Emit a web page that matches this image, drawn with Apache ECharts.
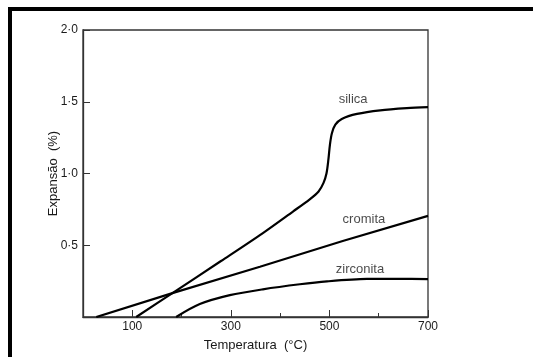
<!DOCTYPE html>
<html>
<head>
<meta charset="utf-8">
<script src="https://cdn.jsdelivr.net/npm/echarts@6/dist/echarts.min.js"></script>
<style>
html,body{margin:0;padding:0;background:#fff;}
#c{width:533px;height:357px;}
</style>
</head>
<body>
<div id="c"></div>
<script>
// ---- data (temperature °C, expansion %) ----
const silicaT = [108, 183, 280, 365, 426, 460, 478, 488, 494, 498, 501, 505, 512, 525, 556, 603, 657, 700];
const silicaV = [0, 0.17, 0.39, 0.585, 0.735, 0.82, 0.875, 0.935, 1.0, 1.10, 1.20, 1.28, 1.34, 1.38, 1.415, 1.44, 1.455, 1.462];
const cromitaT = [27, 183, 359, 527, 700];
const cromitaV = [0, 0.168, 0.35, 0.53, 0.705];
const zirconitaT = [189, 237, 298, 365, 440, 495, 576, 640, 700];
const zirconitaV = [0, 0.09, 0.152, 0.193, 0.228, 0.248, 0.265, 0.266, 0.264];
const curveNames = ['silica', 'cromita', 'zirconita'];
const curveLabelT = [548, 570, 562];
const curveLabelV = [1.517, 0.683, 0.334];
const xMajorTicks = [100, 300, 500, 700];
const xMinorTicks = [200, 400, 600];
const yTicks = [0.5, 1.0, 1.5, 2.0];

const pairs = (t, v) => t.map((x, i) => [x, v[i]]);
const FONT = "'Liberation Sans', Arial, Helvetica, sans-serif";
const INK = '#1a1a1a';

const chart = echarts.init(document.getElementById('c'), null, {renderer: 'canvas'});
const lineStyle = {color: '#000', width: 2.2};
chart.setOption({
  animation: false,
  backgroundColor: '#fff',
  grid: {left: 83, right: 105, top: 30, bottom: 37, show: true, borderColor: '#333', borderWidth: 1.3, backgroundColor: 'transparent'},
  xAxis: [{
    type: 'value', min: 0, max: 700, position: 'bottom',
    axisLine: {show: true, lineStyle: {color: '#333', width: 1.3}},
    axisTick: {show: true, inside: true, length: 7, customValues: xMajorTicks, lineStyle: {color: '#333', width: 1}},
    axisLabel: {show: true, customValues: xMajorTicks, margin: 4, color: INK, fontFamily: FONT, fontSize: 12},
    splitLine: {show: false},
    name: 'Temperatura  (°C)', nameLocation: 'middle', nameGap: 22, nameMoveOverlap: false,
    nameTextStyle: {color: INK, fontFamily: FONT, fontSize: 13}
  }, {
    type: 'value', min: 0, max: 700, position: 'bottom',
    axisLine: {show: false},
    axisTick: {show: true, inside: true, length: 4, customValues: xMinorTicks, lineStyle: {color: '#333', width: 1}},
    axisLabel: {show: false},
    splitLine: {show: false}
  }],
  yAxis: {
    type: 'value', min: 0, max: 2.0,
    axisLine: {show: true, lineStyle: {color: '#333', width: 1.3}},
    axisTick: {show: true, inside: true, length: 7, customValues: yTicks, lineStyle: {color: '#333', width: 1}},
    axisLabel: {show: true, customValues: yTicks, margin: 5, color: INK, fontFamily: FONT, fontSize: 12,
      formatter: v => v.toFixed(1).replace('.', '·')},
    splitLine: {show: false},
    name: 'Expansão  (%)', nameLocation: 'middle', nameGap: 23, nameMoveOverlap: false,
    nameTextStyle: {color: INK, fontFamily: FONT, fontSize: 13}
  },
  graphic: [
    {type: 'rect', left: 8, top: 7, shape: {width: 4, height: 350}, style: {fill: '#000'}, z: 100},
    {type: 'rect', left: 8, top: 7, shape: {width: 525, height: 4}, style: {fill: '#000'}, z: 100}
  ],
  series: [
    {type: 'line', name: 'silica', data: pairs(silicaT, silicaV), showSymbol: false, smooth: 0.3, lineStyle},
    {type: 'line', name: 'cromita', data: pairs(cromitaT, cromitaV), showSymbol: false, smooth: false, lineStyle},
    {type: 'line', name: 'zirconita', data: pairs(zirconitaT, zirconitaV), showSymbol: false, smooth: 0.3, lineStyle},
    {type: 'scatter', symbolSize: 0, silent: true,
      data: curveNames.map((n, i) => ({value: [curveLabelT[i], curveLabelV[i]], name: n})),
      label: {show: true, position: 'inside', formatter: p => p.name, color: INK, fontFamily: FONT, fontSize: 13}}
  ]
});
</script>
</body>
</html>
